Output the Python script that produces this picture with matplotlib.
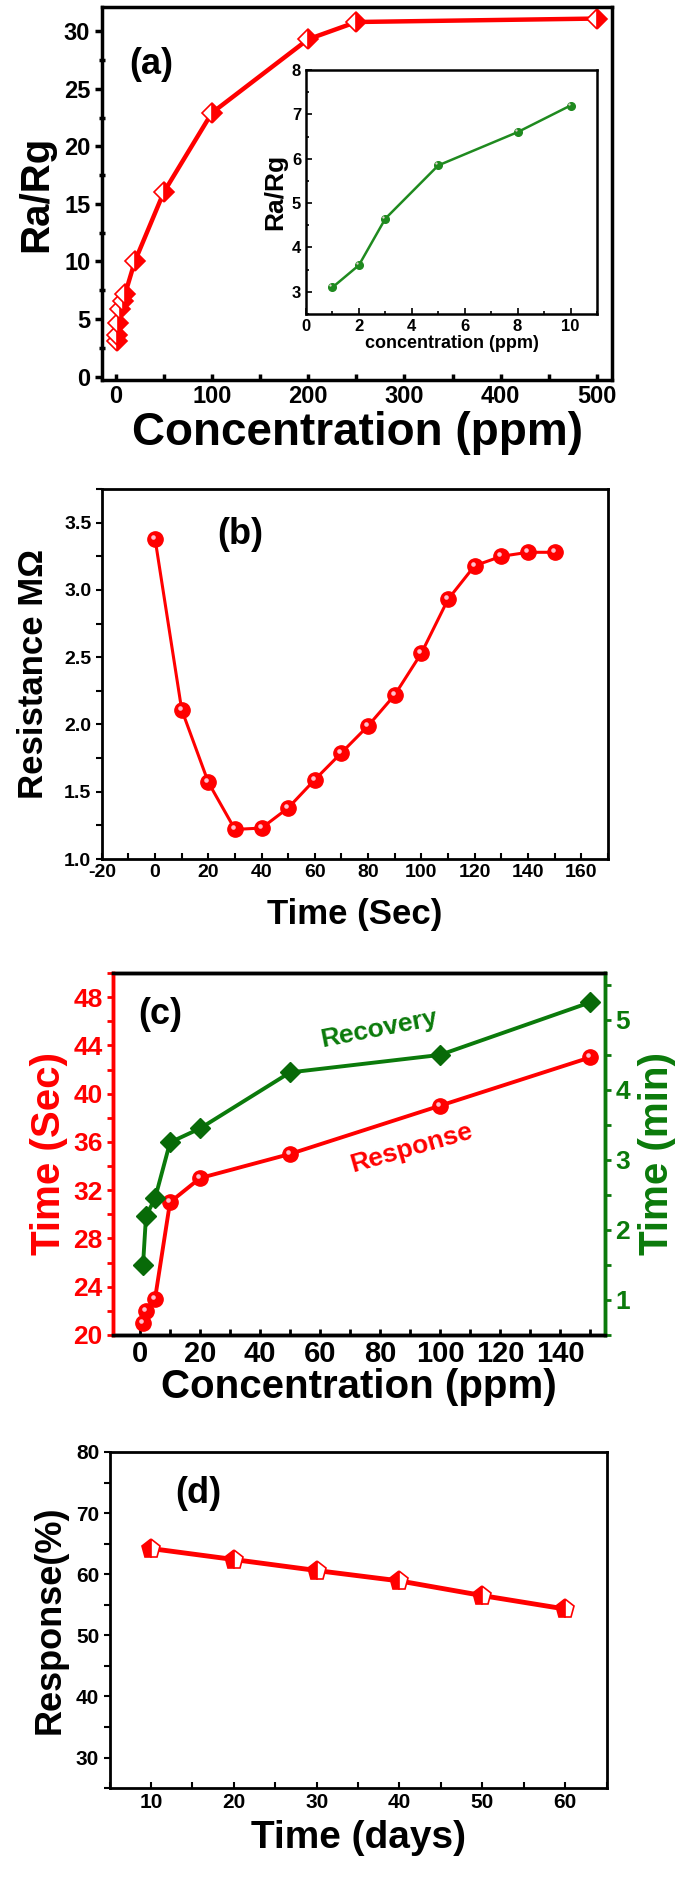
import numpy as np
import matplotlib
matplotlib.use('Agg')
import matplotlib.pyplot as plt
from matplotlib.ticker import MultipleLocator
from matplotlib.transforms import offset_copy

plt.rcParams['font.family'] = ['Liberation Sans', 'DejaVu Sans']
plt.rcParams['font.weight'] = 'bold'
plt.rcParams['axes.labelweight'] = 'bold'
plt.rcParams['axes.unicode_minus'] = False

RED = '#ff0000'
GREEN = '#0b7a0b'

# (a) response vs concentration
conc_a = [1, 2, 3, 5, 8, 10, 20, 50, 100, 200, 250, 500]
ratio_a = [3.1, 3.6, 4.65, 5.85, 6.6, 7.2, 10.0, 16.0, 22.9, 29.3, 30.8, 31.1]
# inset: low concentrations
conc_in = [1, 2, 3, 5, 8, 10]
ratio_in = [3.1, 3.6, 4.65, 5.85, 6.6, 7.2]

# (b) resistance transient
time_b = [0, 10, 20, 30, 40, 50, 60, 70, 80, 90, 100, 110, 120, 130, 140, 150]
res_b = [3.38, 2.11, 1.57, 1.22, 1.23, 1.38, 1.59, 1.79, 1.99, 2.22, 2.53,
         2.93, 3.18, 3.25, 3.28, 3.28]

# (c) response / recovery times
conc_c = [1, 2, 5, 10, 20, 50, 100, 150]
resp_sec = [21, 22, 23, 31, 33, 35, 39, 43]
rec_min = [1.5, 2.2, 2.45, 3.25, 3.45, 4.25, 4.5, 5.25]

# (d) stability
days_d = [10, 20, 30, 40, 50, 60]
resp_d = [64.2, 62.4, 60.6, 58.9, 56.5, 54.3]

fig = plt.figure(figsize=(6.85, 19.03), dpi=100)


def sphere(ax, x, y, ms, color, **kw):
    ax.plot(x, y, 'o', ms=ms, color=color, mec=color, zorder=3, **kw)
    tr = offset_copy(ax.transData, fig=fig, x=-2, y=2, units='dots')
    ax.plot(x, y, 'o', ms=ms * 0.3, color='#ffd6e6', mec='none', alpha=0.9,
            transform=tr, zorder=4)


# ---------- (a)
ax = fig.add_axes([0.149, 0.8003, 0.745, 0.196])
ax.plot(conc_a, ratio_a, '-', color=RED, lw=3.2, marker='D', ms=10,
        fillstyle='right', mfc=RED, mfcalt='white', mec=RED, mew=1.2)
ax.set_xlim(-14, 516)
ax.set_ylim(-0.3, 32.1)
ax.xaxis.set_major_locator(MultipleLocator(100))
ax.xaxis.set_minor_locator(MultipleLocator(50))
ax.yaxis.set_major_locator(MultipleLocator(5))
ax.yaxis.set_minor_locator(MultipleLocator(2.5))
ax.tick_params(axis='both', which='both', labelsize=17, width=2.5)
ax.tick_params(axis='x', which='both', direction='in', length=4)
ax.tick_params(axis='y', which='major', direction='out', length=5)
ax.tick_params(axis='y', which='minor', direction='inout', length=5)
for s in ax.spines.values():
    s.set_linewidth(2.5)
ax.set_xlabel('Concentration (ppm)', fontsize=33, labelpad=2)
ax.set_ylabel('Ra/Rg', fontsize=29, labelpad=6)
ax.text(0.053, 0.845, '(a)', transform=ax.transAxes, fontsize=26, va='center')

axi = fig.add_axes([0.4467, 0.835, 0.4248, 0.1282])
axi.plot(conc_in, ratio_in, '-', color='#1f8a1f', lw=1.8)
sphere(axi, conc_in, ratio_in, 5.5, '#1f8a1f')
axi.set_xlim(0, 11)
axi.set_ylim(2.5, 8)
axi.xaxis.set_major_locator(MultipleLocator(2))
axi.xaxis.set_minor_locator(MultipleLocator(1))
axi.yaxis.set_major_locator(MultipleLocator(1))
axi.yaxis.set_minor_locator(MultipleLocator(0.5))
axi.tick_params(axis='both', which='both', direction='in', labelsize=12, width=1.2)
axi.tick_params(which='major', length=4)
axi.tick_params(which='minor', length=2.5)
for s in axi.spines.values():
    s.set_linewidth(1.8)
axi.set_xlabel('concentration (ppm)', fontsize=13, labelpad=1)
axi.set_ylabel('Ra/Rg', fontsize=19, labelpad=3)

# ---------- (b)
ax = fig.add_axes([0.1486, 0.5486, 0.7387, 0.1944])
ax.plot(time_b, res_b, '-', color=RED, lw=2.2)
sphere(ax, time_b, res_b, 11, RED)
ax.set_xlim(-20, 170)
ax.set_ylim(1.0, 3.75)
ax.xaxis.set_major_locator(MultipleLocator(20))
ax.xaxis.set_minor_locator(MultipleLocator(10))
ax.yaxis.set_major_locator(MultipleLocator(0.5))
ax.yaxis.set_minor_locator(MultipleLocator(0.25))
ax.tick_params(axis='both', which='both', labelsize=14, width=1.5)
ax.tick_params(axis='x', which='both', direction='in', length=4)
ax.tick_params(axis='y', which='both', direction='out', length=4)
for s in ax.spines.values():
    s.set_linewidth(2)
ax.set_xlabel('Time (Sec)', fontsize=25, labelpad=12)
ax.set_ylabel('Resistance M\u03a9', fontsize=25, labelpad=10)
ax.text(0.273, 0.876, '(b)', transform=ax.transAxes, fontsize=26,
        ha='center', va='center')

# ---------- (c)
ax = fig.add_axes([0.165, 0.2985, 0.7182, 0.1902])
ax2 = ax.twinx()
ax.plot(conc_c, resp_sec, '-', color=RED, lw=2.8, zorder=2)
sphere(ax, conc_c, resp_sec, 11, RED)
ax2.plot(conc_c, rec_min, '-', color=GREEN, lw=2.8, marker='D', ms=10,
         mfc='#086a08', mec='#086a08')
ax.set_xlim(-9, 155)
ax.set_ylim(20, 50)
ax2.set_ylim(0.5, 5.67)
ax.xaxis.set_major_locator(MultipleLocator(20))
ax.xaxis.set_minor_locator(MultipleLocator(10))
ax.yaxis.set_major_locator(MultipleLocator(4))
ax.yaxis.set_minor_locator(MultipleLocator(2))
ax2.yaxis.set_major_locator(MultipleLocator(1))
ax2.yaxis.set_minor_locator(MultipleLocator(0.5))
ax.tick_params(axis='x', which='both', direction='in', length=4, width=2,
               labelsize=21)
ax.tick_params(axis='y', which='both', direction='out', length=4, width=2,
               colors=RED, labelsize=19)
ax2.tick_params(axis='y', which='both', direction='out', length=4, width=2,
                colors=GREEN, labelsize=19)
for a in (ax, ax2):
    for s in a.spines.values():
        s.set_linewidth(2.5)
ax2.spines['left'].set_color(RED)
ax2.spines['right'].set_color(GREEN)
ax.spines['left'].set_color(RED)
ax.spines['right'].set_color(GREEN)
ax.set_xlabel('Concentration (ppm)', fontsize=29, labelpad=0)
ax.set_ylabel('Time (Sec)', fontsize=29, color=RED, labelpad=4)
ax2.set_ylabel('Time (min)', fontsize=29, color=GREEN, labelpad=6)
ax.text(0.0955, 0.884, '(c)', transform=ax.transAxes, fontsize=26,
        ha='center', va='center')
ax.text(0.54, 0.845, 'Recovery', transform=ax.transAxes, fontsize=19,
        color=GREEN, rotation=11, ha='center', va='center')
ax.text(0.607, 0.517, 'Response', transform=ax.transAxes, fontsize=19,
        color=RED, rotation=16, ha='center', va='center')

# ---------- (d)
ax = fig.add_axes([0.16, 0.0604, 0.7255, 0.1766])
ax.plot(days_d, resp_d, '-', color=RED, lw=3.5, marker='p', ms=14,
        fillstyle='left', mfc=RED, mfcalt='white', mec=RED, mew=1.2)
ax.set_xlim(5, 65)
ax.set_ylim(25, 80)
ax.xaxis.set_major_locator(MultipleLocator(10))
ax.xaxis.set_minor_locator(MultipleLocator(5))
ax.yaxis.set_major_locator(MultipleLocator(10))
ax.yaxis.set_minor_locator(MultipleLocator(5))
ax.tick_params(axis='both', which='both', labelsize=15, width=1.5)
ax.tick_params(axis='x', which='both', direction='in', length=4)
ax.tick_params(axis='y', which='both', direction='out', length=4)
for s in ax.spines.values():
    s.set_linewidth(2)
ax.set_xlabel('Time (days)', fontsize=28, labelpad=6)
ax.set_ylabel('Response(%)', fontsize=26, labelpad=6)
ax.text(0.179, 0.875, '(d)', transform=ax.transAxes, fontsize=26,
        ha='center', va='center')

fig.savefig('out.png', dpi=100)
